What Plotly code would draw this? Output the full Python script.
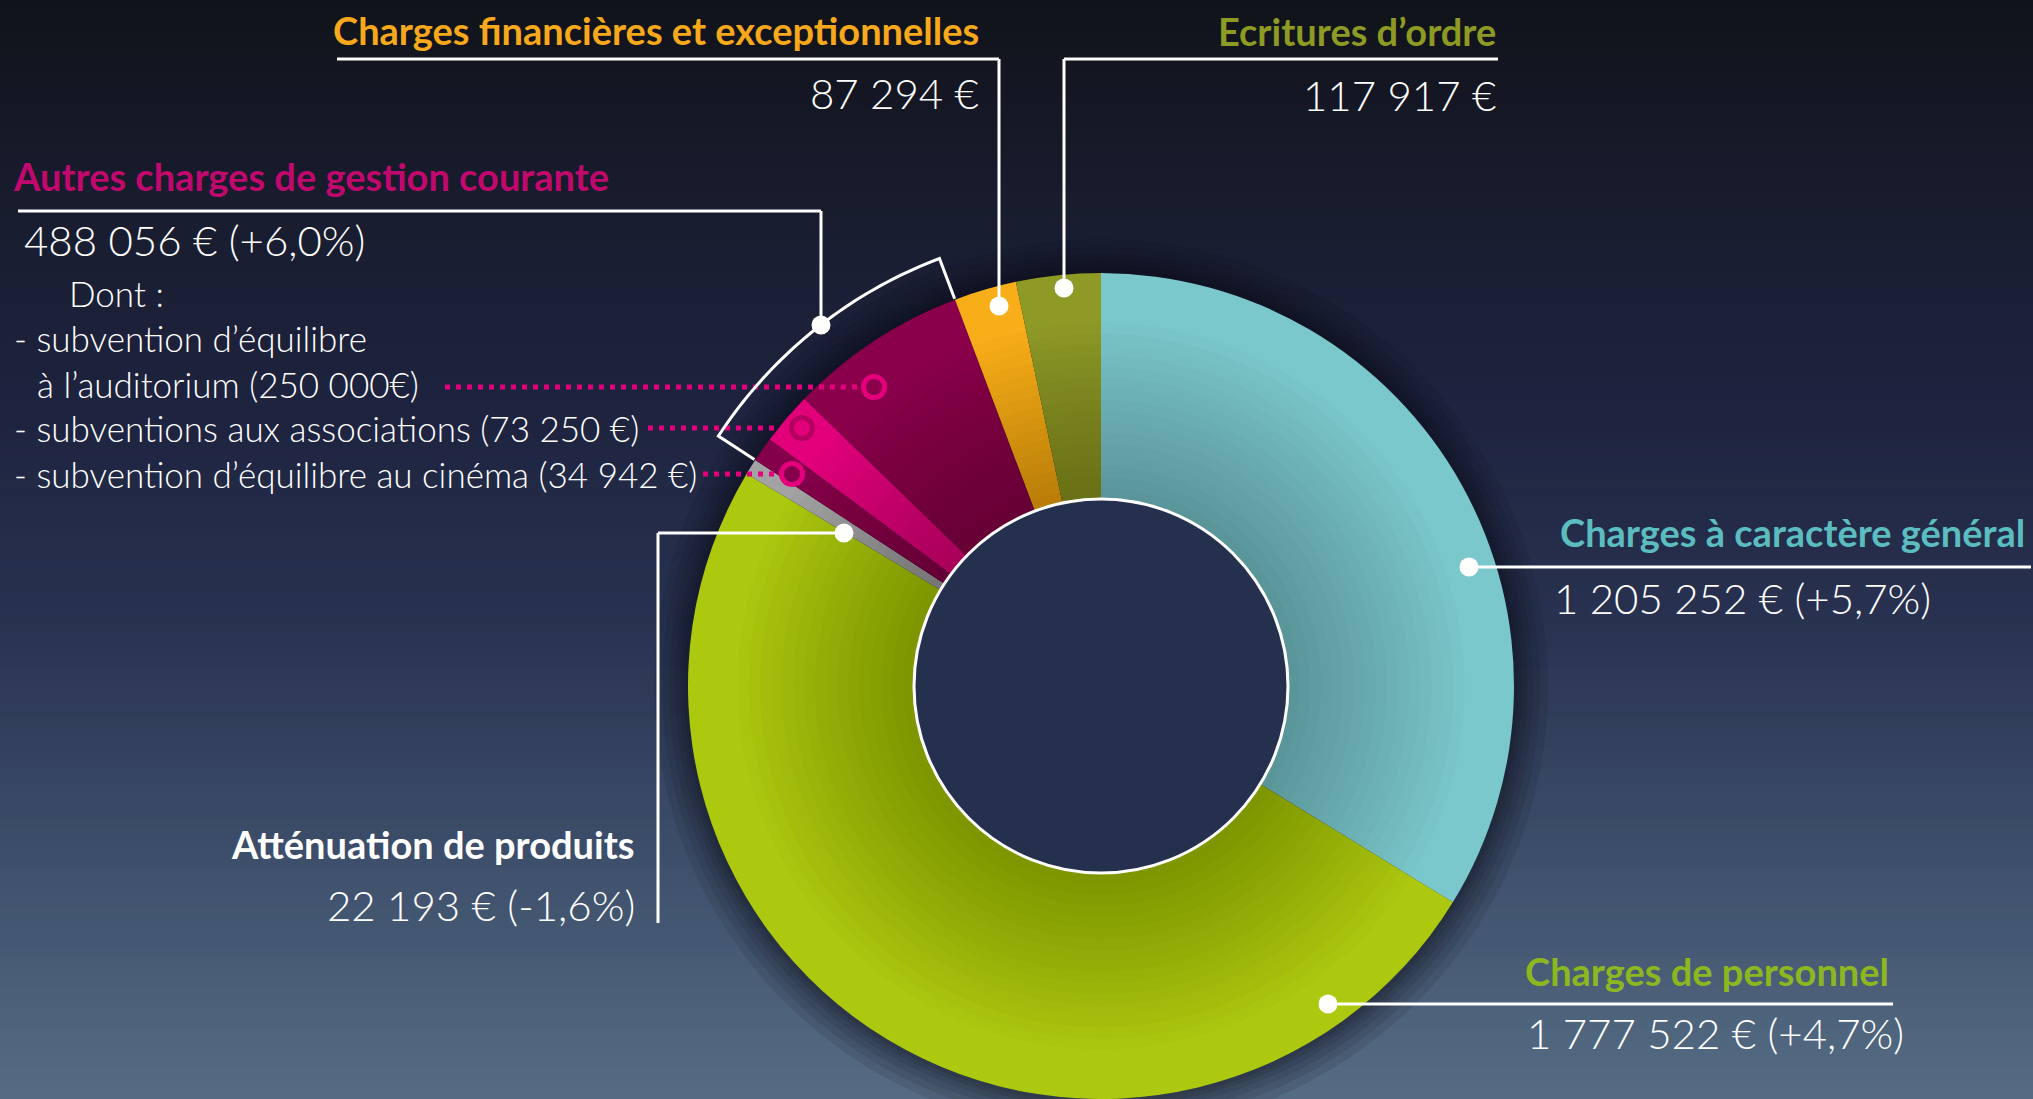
import math
import plotly.graph_objects as go

# ---------------- data ----------------
categories = [
    "Charges à caractère général",
    "Charges de personnel",
    "Atténuation de produits",
    "Subvention d'équilibre au cinéma",
    "Subventions aux associations",
    "Subvention d'équilibre à l'auditorium",
    "Charges financières et exceptionnelles",
    "Ecritures d'ordre",
]
values = [1205252, 1777522, 22193, 34942, 73250, 250000, 87294, 117917]
slice_colors = ["#7ac8cc", "#adc90f", "#a3a3a3", "#85004a", "#e2007a", "#8a004b", "#f8ae18", "#8f9a26"]

# label texts
autres_total = "488 056 € (+6,0%)"
label_cfe = ("Charges financières et exceptionnelles", "87 294 €")
label_ecr = ("Ecritures d’ordre", "117 917 €")
label_autres = "Autres charges de gestion courante"
sub_items = ["Dont :", "- subvention d’équilibre", "à l’auditorium (250 000€)",
             "- subventions aux associations (73 250 €)",
             "- subvention d’équilibre au cinéma (34 942 €)"]
label_gen = ("Charges à caractère général", "1 205 252 € (+5,7%)")
label_pers = ("Charges de personnel", "1 777 522 € (+4,7%)")
label_att = ("Atténuation de produits", "22 193 € (-1,6%)")

# ---------------- geometry / style ----------------
W, H = 2033, 1099
CX, CY, R = 1101, 686, 413
HOLE_R = 187

def px(x):
    return x / W

def py(y):
    return 1 - y / H

fig = go.Figure()

# main donut
fig.add_trace(go.Pie(
    labels=categories, values=values, sort=False, direction="clockwise", rotation=0,
    hole=HOLE_R / R,
    marker=dict(colors=slice_colors, line=dict(width=0)),
    textinfo="none", hoverinfo="label+value", showlegend=False,
    domain=dict(x=[px(CX - R), px(CX + R)], y=[py(CY + R), py(CY - R)]),
))

# very subtle inner shading (stacked translucent rings)
n_sh = 16
for k in range(n_sh):
    rr = HOLE_R + (R * 0.88 - HOLE_R) * (k + 1) / n_sh
    fig.add_trace(go.Pie(
        values=[1], sort=False, hole=HOLE_R / rr,
        marker=dict(colors=["rgba(20,30,0,0.014)"], line=dict(width=0)),
        textinfo="none", hoverinfo="skip", showlegend=False,
        domain=dict(x=[px(CX - rr), px(CX + rr)], y=[py(CY + rr), py(CY - rr)]),
    ))

# inner disc
fig.add_trace(go.Pie(
    values=[1], sort=False,
    marker=dict(colors=["#25304f"], line=dict(color="white", width=3)),
    textinfo="none", hoverinfo="skip", showlegend=False,
    domain=dict(x=[px(CX - HOLE_R), px(CX + HOLE_R)], y=[py(CY + HOLE_R), py(CY - HOLE_R)]),
))

shapes = []

# background gradient
stops = [(0, (17, 19, 26)), (200, (24, 28, 45)), (420, (30, 36, 64)), (620, (40, 50, 80)),
         (820, (58, 74, 102)), (1000, (76, 96, 122)), (1099, (86, 107, 132))]
n_bands = 110
for i in range(n_bands):
    y0 = i * H / n_bands
    y1 = (i + 1) * H / n_bands
    ym = (y0 + y1) / 2
    for (a, ca), (b, cb) in zip(stops[:-1], stops[1:]):
        if a <= ym <= b:
            t = (ym - a) / (b - a)
            c = tuple(int(round(ca[k] + (cb[k] - ca[k]) * t)) for k in range(3))
            break
    shapes.append(dict(type="rect", xref="paper", yref="paper", x0=0, x1=1,
                       y0=py(y1) - 0.001, y1=py(y0) + 0.001, line=dict(width=0),
                       fillcolor=f"rgb{c}", layer="below"))

# soft shadow around donut
for dr in [34, 26, 19, 13, 8, 4]:
    rr = R + dr
    shapes.append(dict(type="circle", xref="paper", yref="paper",
                       x0=px(CX - rr), x1=px(CX + rr), y0=py(CY + rr), y1=py(CY - rr),
                       line=dict(width=0), fillcolor="rgba(8,10,24,0.10)", layer="below"))

def line(x0, y0, x1, y1, color="white", width=3, dash=None):
    d = dict(type="line", xref="paper", yref="paper", x0=px(x0), y0=py(y0), x1=px(x1), y1=py(y1),
             line=dict(color=color, width=width), layer="above")
    if dash:
        d["line"]["dash"] = dash
    shapes.append(d)

def dot(x, y, r=9.5, color="white"):
    shapes.append(dict(type="circle", xref="paper", yref="paper",
                       x0=px(x - r), x1=px(x + r), y0=py(y + r), y1=py(y - r),
                       line=dict(width=0), fillcolor=color, layer="above"))

def ring(x, y, r=10.5, color="#e4007c"):
    shapes.append(dict(type="circle", xref="paper", yref="paper",
                       x0=px(x - r), x1=px(x + r), y0=py(y + r), y1=py(y - r),
                       line=dict(width=5, color=color), fillcolor="rgba(0,0,0,0)", layer="above"))

# leader lines
line(337, 59, 999, 59); line(999, 59, 999, 306); dot(999, 306)
line(1064, 59, 1498, 59); line(1064, 59, 1064, 288); dot(1064, 288)
line(18, 211, 821, 211); line(821, 211, 821, 325); dot(821, 325)
line(1469, 567, 2031, 567); dot(1469, 567)
line(1328, 1004, 1893, 1004); dot(1328, 1004)
line(658, 533, 844, 533); line(658, 533, 658, 923); dot(844, 533)

# dotted pointers for the sub-items
PINK = "#e4007c"
line(445, 387, 862, 387, color=PINK, width=5, dash="5px,6px"); ring(874, 387, color=PINK)
line(648, 428, 790, 428, color=PINK, width=5, dash="5px,6px"); ring(802, 428, color="#b4005f")
line(703, 474, 780, 474, color=PINK, width=5, dash="5px,6px"); ring(792, 474, color=PINK)

# bracket around the "Autres charges" sub-slices (angles from the data)
total = sum(values)
cum = [0]
for v in values:
    cum.append(cum[-1] + v)
a1 = cum[3] / total * 2 * math.pi
a2 = cum[6] / total * 2 * math.pi
RB = 457

def pol(r, a):
    return CX + r * math.sin(a), CY - r * math.cos(a)

pts = [pol(R + 1, a1)]
steps = 40
for k in range(steps + 1):
    pts.append(pol(RB, a1 + (a2 - a1) * k / steps))
pts.append(pol(R + 1, a2))
path = "M " + " L ".join(f"{px(x):.5f},{py(y):.5f}" for x, y in pts)
shapes.append(dict(type="path", xref="paper", yref="paper", path=path,
                   line=dict(color="white", width=3), layer="above"))

# ---------------- annotations ----------------
annotations = []
FONT = "Lato"
T_SIZE, V_SIZE, S_SIZE = 38, 42, 35

def ann(text, x, y, anchor, color="white", size=T_SIZE, weight=700):
    annotations.append(dict(text=text, x=px(x), y=py(y), xref="paper", yref="paper",
                            xanchor=anchor, yanchor="middle", showarrow=False,
                            font=dict(family=FONT, size=size, color=color, weight=weight)))

ann(label_cfe[0], 981, 30, "right", color="#f7a81b")
ann(label_cfe[1], 981, 93, "right", size=V_SIZE, weight=300)
ann(label_ecr[0], 1498, 31, "right", color="#8d9a23")
ann(label_ecr[1], 1498, 95, "right", size=V_SIZE, weight=300)
ann(label_autres, 11, 176, "left", color="#c0086e")
ann(autres_total, 22, 240, "left", size=V_SIZE, weight=300)
sub_pos = [(67, 293), (12, 338), (35, 384), (12, 428), (12, 474)]
for t, (x, y) in zip(sub_items, sub_pos):
    ann(t, x, y, "left", size=S_SIZE, weight=300)
ann(label_gen[0], 2027, 532, "right", color="#5cbdc0")
ann(label_gen[1], 1552, 598, "left", size=V_SIZE, weight=300)
ann(label_pers[0], 1891, 971, "right", color="#8db720")
ann(label_pers[1], 1906, 1033, "right", size=V_SIZE, weight=300)
ann(label_att[0], 637, 844, "right")
ann(label_att[1], 637, 905, "right", size=V_SIZE, weight=300)

fig.update_layout(
    width=W, height=H,
    margin=dict(l=0, r=0, t=0, b=0),
    paper_bgcolor="#1c2238", plot_bgcolor="rgba(0,0,0,0)",
    shapes=shapes, annotations=annotations, showlegend=False,
)

fig.write_html("out.html", config={"displayModeBar": False},
               post_script="document.body.style.margin='0';")
